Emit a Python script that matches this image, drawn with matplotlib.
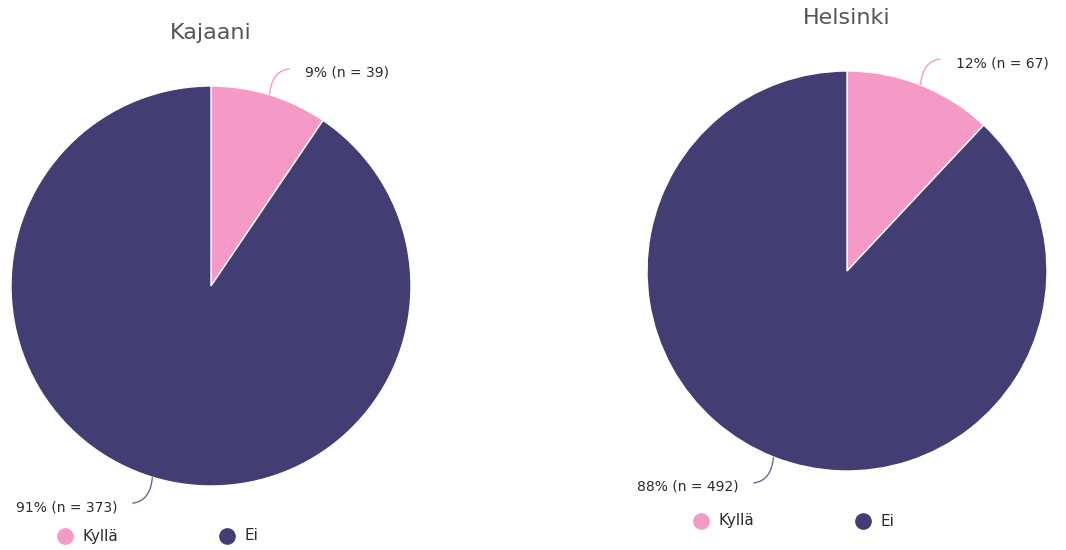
import numpy as np
import matplotlib.pyplot as plt
from matplotlib.path import Path
from matplotlib.patches import PathPatch
from matplotlib.lines import Line2D

# Data
cities  =['Kajaani','Helsinki']
answers =['Kyllä','Ei']
counts  =[[39,373],[67,492]]
pcts    =[[9,91],[12,88]]
colors  =['#F599C7','#423E74']

W,H=1066,550
plt.rcParams['font.family']=['DejaVu Sans']
fig=plt.figure(figsize=(W/100,H/100),dpi=100)

# pixel layout: pie centre, title y, legend position
layout=[dict(cx=211,cy=286,ty=33,ly=536,lx=65),
        dict(cx=847,cy=271,ty=18,ly=521,lx=701)]
R=200

def px2fig(x,y):
    return x/W,1-y/H

for i,city in enumerate(cities):
    L=layout[i]
    left,bottom=px2fig(L['cx']-R,L['cy']+R)
    ax=fig.add_axes([left,bottom,2*R/W,2*R/H])
    ax.pie(counts[i],colors=colors,startangle=90,counterclock=False,
           wedgeprops=dict(edgecolor='white',linewidth=1))
    ax.set_xlim(-1,1); ax.set_ylim(-1,1)
    ax.set_aspect('auto')
    ax.axis('off')

    tx,ty=px2fig(L['cx'],L['ty'])
    fig.text(tx,ty,city,ha='center',va='center',fontsize=16,color='#555555')

    # labels with curved leader lines
    tot=sum(counts[i])
    start=90
    for j in range(len(answers)):
        span=360*counts[i][j]/tot
        mid=np.deg2rad(start-span/2)
        start-=span
        x0,y0=np.cos(mid),np.sin(mid)
        up=y0>0
        sgn=1 if up else -1
        xdir=1 if up else -1
        p0=(x0,y0)
        p1=(x0+0.01*xdir,y0+0.12*sgn)
        p2=(x0+0.1*xdir,y0+0.13*sgn)
        path=Path([p0,p1,p2],[Path.MOVETO,Path.CURVE3,Path.CURVE3])
        ax.add_patch(PathPatch(path,fc='none',ec=colors[j] if up else '#6b6890',lw=1,clip_on=False))
        txt='{}% (n = {})'.format(pcts[i][j],counts[i][j])
        ax.text(p2[0]+0.075*xdir,p2[1]-0.02,txt,ha='left' if up else 'right',va='center',
                fontsize=10,color='#2b2b2b')

    # legend
    for j,a in enumerate(answers):
        mx,my=px2fig(L['lx']+162*j,L['ly'])
        fig.add_artist(Line2D([mx],[my],marker='o',markersize=11,color=colors[j],
                              transform=fig.transFigure))
        fx,fy=px2fig(L['lx']+18+162*j,L['ly'])
        fig.text(fx,fy,a,ha='left',va='center',fontsize=11,color='#2b2b2b')

fig.savefig('out.png',dpi=100)
